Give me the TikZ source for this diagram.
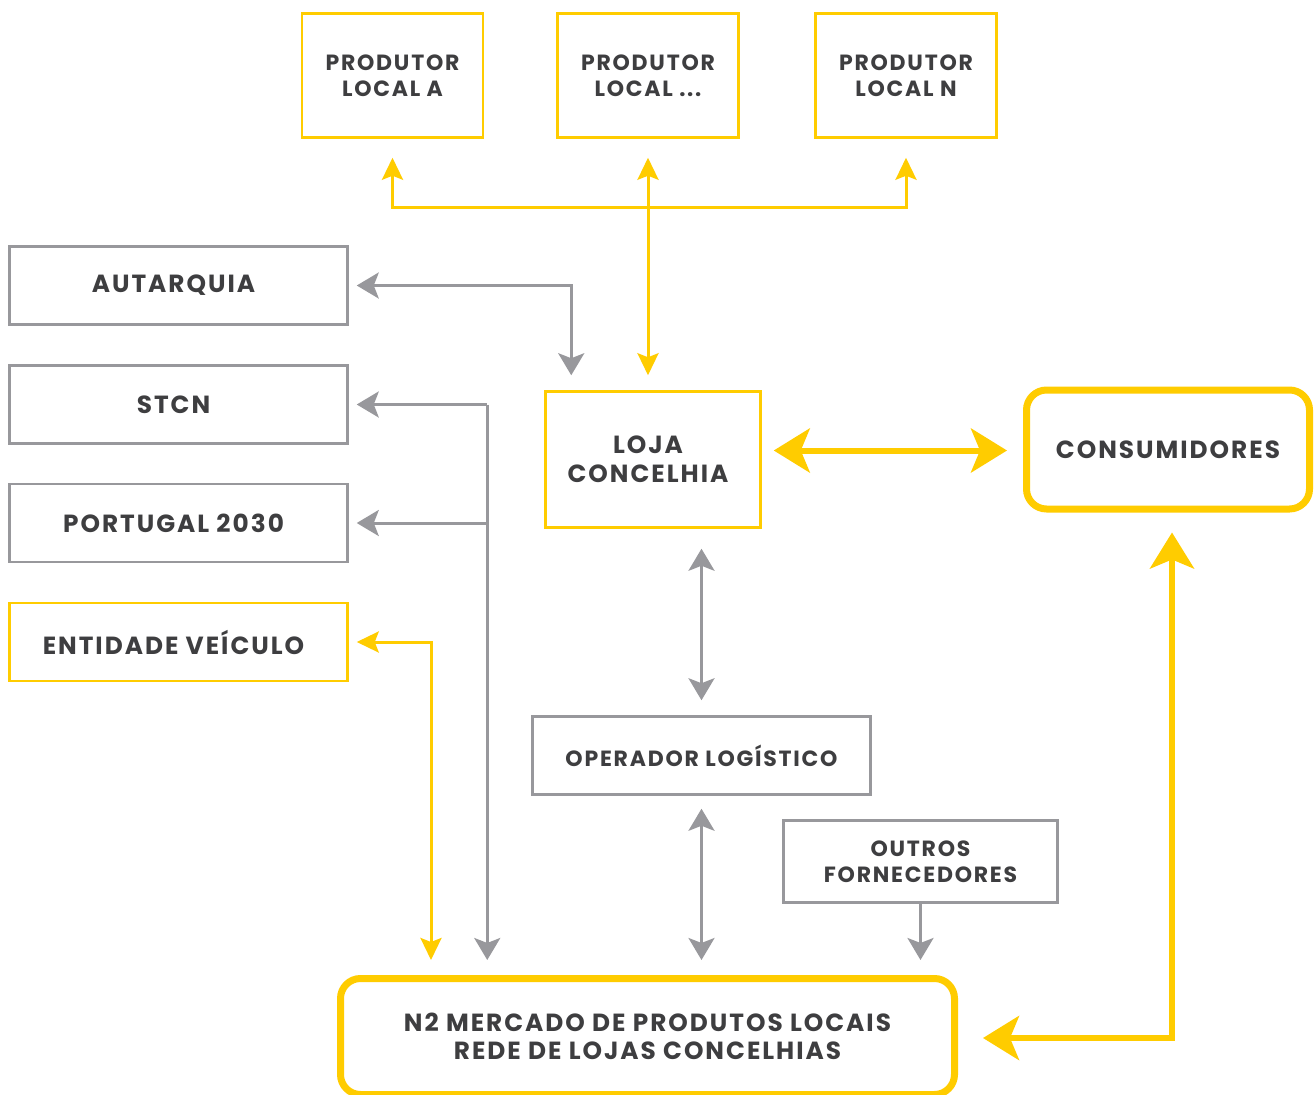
\documentclass[tikz,border=0pt]{standalone}
\usepackage{fontspec}
\setmainfont{Poppins}[LetterSpace=8]
\usetikzlibrary{arrows.meta,calc}
\definecolor{yel}{RGB}{255,204,0}
\definecolor{gr}{RGB}{152,152,156}
\definecolor{txt}{RGB}{62,62,64}
\newcommand{\tpad}{\hspace*{10pt}}
\begin{document}
\begin{tikzpicture}[x=1pt,y=-1pt,
  box/.style={draw, line width=2.5pt, inner sep=0pt, align=center, text=txt},
  gbox/.style={box, draw=gr},
  ybox/.style={box, draw=yel},
  bigbox/.style={box, draw=yel, line width=7pt, rounded corners=20pt},
  fa/.style={font=\bfseries\fontsize{22}{26}\selectfont},
  fb/.style={font=\bfseries\fontsize{24.8}{28.5}\selectfont},
  garr/.style={draw=gr, line width=3pt, -{Stealth[length=22pt,width=26pt,inset=5pt]}},
  garrb/.style={draw=gr, line width=3pt, {Stealth[length=22pt,width=26pt,inset=5pt]}-{Stealth[length=22pt,width=26pt,inset=5pt]}},
  yarr/.style={draw=yel, line width=3pt, -{Stealth[length=22pt,width=21pt,inset=4pt]}},
  yarrb/.style={draw=yel, line width=3pt, {Stealth[length=22pt,width=21pt,inset=4pt]}-{Stealth[length=22pt,width=21pt,inset=4pt]}},
  ythick/.style={draw=yel, line width=6pt, {Stealth[length=36pt,width=44pt,inset=9pt]}-{Stealth[length=36pt,width=44pt,inset=9pt]}}
]
\clip (0,0) rectangle (1315,1095);
\fill[white] (0,0) rectangle (1315,1095);

% producers
\node[ybox, fa, minimum width=181, minimum height=124] (pa) at (392.5,75.5) {PRODUTOR\\LOCAL A};
\node[ybox, fa, minimum width=181, minimum height=124] (pd) at (648,75.5) {PRODUTOR\\LOCAL ...};
\node[ybox, fa, minimum width=181, minimum height=124] (pn) at (906,75.5) {PRODUTOR\\LOCAL N};

% left column
\node[gbox, fb, minimum width=338, minimum height=78] (aut) at (178.5,285.5) {AUTARQUIA\tpad};
\node[gbox, fb, minimum width=338, minimum height=78] (stcn) at (178.5,404.5) {STCN\tpad};
\node[gbox, fb, minimum width=338, minimum height=78] (pt) at (178.5,523) {PORTUGAL 2030\tpad};
\node[ybox, fb, minimum width=338, minimum height=78] (ent) at (178.5,642) {ENTIDADE VEÍCULO\tpad};

% centre
\node[ybox, fb, minimum width=215, minimum height=136] (loja) at (653,459.5) {LOJA\tpad\\CONCELHIA\tpad};
\node[bigbox, fb, minimum width=283, minimum height=119] (cons) at (1168,449.5) {CONSUMIDORES};
\node[gbox, fa, minimum width=338, minimum height=78] (oper) at (701.5,755.5) {OPERADOR LOGÍSTICO};
\node[gbox, fa, minimum width=274, minimum height=82] (outros) at (920.5,861.5) {OUTROS\\FORNECEDORES};
\node[bigbox, fb, minimum width=614, minimum height=116] (merc) at (647.5,1036.5) {N2 MERCADO DE PRODUTOS LOCAIS\\REDE DE LOJAS CONCELHIAS};

% producer tree
\coordinate (hub) at (648,207);
\draw[yarr] (hub) -| ($(pa.south)+(0,19)$);
\draw[yarr] (hub) -| ($(pn.south)+(0,19)$);
\draw[yarr] (hub) -- ($(pd.south)+(0,19)$);
\draw[yarr] (hub) -- ($(loja.north -| hub)+(0,-15)$);

% autarquia
\draw[garrb] ($(aut.east)+(8,0)$) -| ($(loja.north west)+(27,-15)$);

% STCN / Portugal 2030 bus
\coordinate (bus) at ($(stcn.east)+(138.5,0)$);
\draw[garr] (bus) -- ($(stcn.east)+(8,0)$);
\draw[garr] (bus |- pt.east) -- ($(pt.east)+(8,0)$);
\draw[garr] (bus) -- ($(merc.north -| bus)+(0,-15)$);

% entidade veiculo
\draw[yarrb] ($(ent.east)+(8,0)$) -| ($(merc.north west)+(94,-15)$);

% loja <-> consumidores
\draw[ythick] ($(loja.east |- cons.west)+(12,1)$) -- ($(cons.west)+(-16,1)$);

% loja <-> operador
\draw[garrb] ($(oper.north)+(0,-15)$) -- ($(loja.south -| oper.north)+(0,20)$);
% operador <-> mercado
\draw[garrb] ($(oper.south)+(0,13)$) -- ($(merc.north -| oper.south)+(0,-15)$);
% outros -> mercado
\draw[garr] (outros.south) -- ($(merc.north -| outros.south)+(0,-15)$);

% consumidores <-> mercado
\draw[ythick] ($(cons.south)+(4,20)$) |- ($(merc.east)+(25,1.5)$);
\end{tikzpicture}
\end{document}
